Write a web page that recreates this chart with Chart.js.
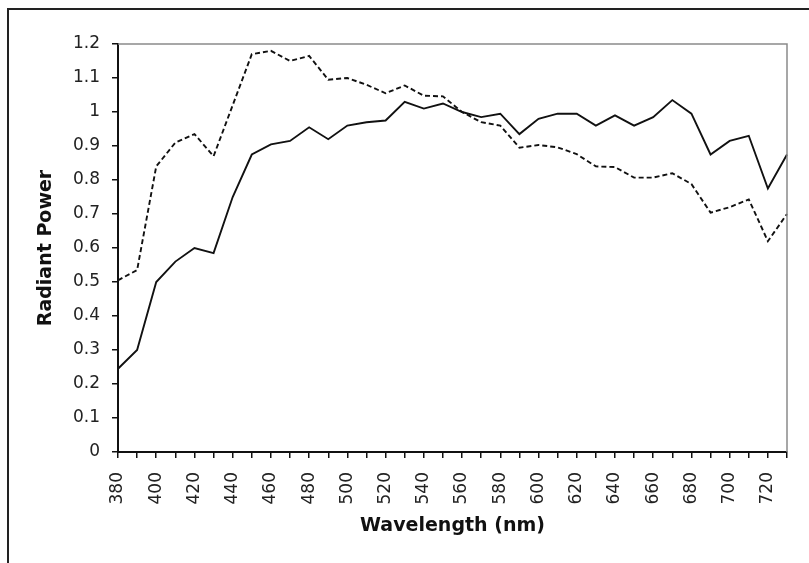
<!DOCTYPE html>
<html>
<head>
<meta charset="utf-8">
<script src="https://cdn.jsdelivr.net/npm/chart.js@4.4.0/dist/chart.umd.min.js"></script>
<style>
  html, body { margin: 0; padding: 0; background: #fff; overflow: hidden; }
  #wrap { position: relative; width: 809px; height: 563px; }
  #frame { position: absolute; left: 7px; top: 8px; width: 900px; height: 700px;
           border-left: 2px solid #222; border-top: 2px solid #222; pointer-events: none; }
  canvas { position: absolute; left: 0; top: 0; }
</style>
</head>
<body>
<div id="wrap">
  <canvas id="c" width="809" height="563"></canvas>
  <div id="frame"></div>
</div>
<script>
// Wavelength categories (nm)
const wavelengths = [380,390,400,410,420,430,440,450,460,470,480,490,500,510,520,530,540,550,560,570,580,590,600,610,620,630,640,650,660,670,680,690,700,710,720,730];
// Solid series
const solidSeries = [0.245,0.30,0.50,0.56,0.60,0.585,0.75,0.875,0.905,0.915,0.955,0.92,0.96,0.97,0.975,1.03,1.01,1.025,1.0,0.985,0.995,0.935,0.98,0.995,0.995,0.96,0.99,0.96,0.985,1.035,0.995,0.875,0.915,0.93,0.775,0.875];
// Dashed series
const dashedSeries = [0.505,0.535,0.84,0.91,0.935,0.87,1.02,1.17,1.18,1.15,1.165,1.095,1.10,1.08,1.055,1.078,1.048,1.046,1.0,0.97,0.96,0.895,0.903,0.896,0.876,0.84,0.838,0.807,0.807,0.82,0.788,0.704,0.72,0.743,0.62,0.70];
// Axis titles
const xTitle = 'Wavelength (nm)';
const yTitle = 'Radiant Power';

const plotFrame = {
  id: 'plotFrame',
  afterDraw(chart) {
    const a = chart.chartArea, ctx = chart.ctx;
    ctx.save();
    ctx.strokeStyle = '#8a8a8a';
    ctx.lineWidth = 1.5;
    ctx.beginPath();
    ctx.moveTo(a.left, a.top);
    ctx.lineTo(a.right, a.top);
    ctx.lineTo(a.right, a.bottom);
    ctx.stroke();
    ctx.restore();
  }
};

new Chart(document.getElementById('c'), {
  type: 'line',
  data: {
    labels: wavelengths,
    datasets: [
      { data: solidSeries, borderColor: '#111', borderWidth: 1.9, pointRadius: 0, tension: 0, fill: false },
      { data: dashedSeries, borderColor: '#111', borderWidth: 1.9, borderDash: [5, 3], pointRadius: 0, tension: 0, fill: false }
    ]
  },
  options: {
    responsive: false,
    animation: false,
    devicePixelRatio: 1,
    layout: { padding: { left: 0, top: 44, right: 22, bottom: 0 } },
    plugins: { legend: { display: false }, tooltip: { enabled: false } },
    scales: {
      x: {
        type: 'category',
        offset: false,
        afterFit(s) { s.height = 111; s.paddingRight = 0; s.paddingLeft = 0; },
        grid: { drawOnChartArea: false, drawTicks: true, tickLength: 6, color: '#111', lineWidth: 1.5 },
        border: { display: true, color: '#111', width: 2 },
        ticks: {
          autoSkip: false, minRotation: 90, maxRotation: 90, padding: 14,
          color: '#222', font: { family: 'DejaVu Sans', size: 17 },
          callback(v, i) { return i % 2 === 0 ? String(wavelengths[i]) : ''; }
        },
        title: { display: true, text: xTitle, color: '#111', font: { family: 'DejaVu Sans', size: 19, weight: 'bold' }, padding: { top: 0, bottom: 26 } }
      },
      y: {
        min: 0, max: 1.2,
        afterFit(s) { s.width = 118; },
        grid: { drawOnChartArea: false, drawTicks: true, tickLength: 6, color: '#111', lineWidth: 1.5 },
        border: { display: true, color: '#111', width: 2 },
        ticks: {
          stepSize: 0.1, padding: 12, color: '#222', font: { family: 'DejaVu Sans', size: 17 },
          callback(v) { return String(Number(v.toFixed(1))); }
        },
        title: { display: true, text: yTitle, color: '#111', font: { family: 'DejaVu Sans', size: 19, weight: 'bold' }, padding: { top: 35, bottom: 0 } }
      }
    }
  },
  plugins: [plotFrame]
});
</script>
</body>
</html>
